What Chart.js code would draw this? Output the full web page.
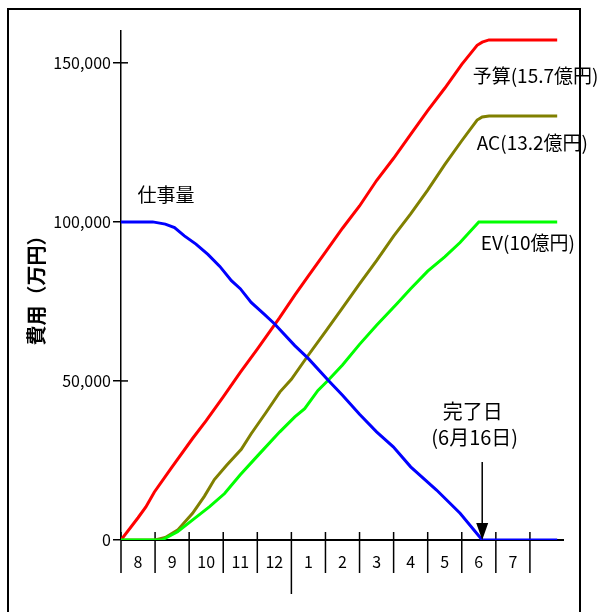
<!DOCTYPE html>
<html>
<head>
<meta charset="utf-8">
<script src="https://cdn.jsdelivr.net/npm/chart.js@4.4.1/dist/chart.umd.min.js"></script>
<style>
html, body { margin: 0; padding: 0; background: #fff; }
</style>
</head>
<body>
<canvas id="evmChart" width="603" height="612"></canvas>
<script>
// x is in months counted from 1 August (0 = 8/1, 5 = 1/1, 10 = 6/1)
const monthLabels = ['8', '9', '10', '11', '12', '1', '2', '3', '4', '5', '6', '7'];
const yTicks = [0, 50000, 100000, 150000];
const finishMonth = 10.6;   // 6月16日

// 予算 (planned value)
const budgetX = [0, 0.5, 0.73, 0.98, 1.5, 2.1, 2.5, 3, 3.5, 4, 4.65, 5.1, 5.5, 6, 6.5, 7, 7.5, 8, 8.5, 9, 9.5, 10, 10.45, 10.6, 10.8, 12.8];
const budgetY = [0, 7000, 10400, 15100, 23000, 31900, 37500, 45000, 52700, 60000, 69800, 77000, 83000, 90500, 98000, 105000, 113000, 120000, 127500, 135000, 142000, 149500, 155500, 156500, 157200, 157200];

// AC (actual cost)
const acX = [0, 1, 1.3, 1.66, 2.1, 2.45, 2.74, 3.1, 3.53, 3.82, 4.25, 4.66, 5.0, 5.49, 6, 6.5, 7, 7.5, 8, 8.5, 9, 9.5, 10, 10.45, 10.6, 10.8, 12.8];
const acY = [0, 0, 800, 3100, 8400, 13800, 19000, 23500, 28500, 33400, 40000, 46500, 50500, 58000, 65500, 73000, 80500, 87800, 95500, 102500, 110000, 118000, 125500, 132000, 133000, 133300, 133300];

// EV (earned value)
const evX = [0, 1.2, 1.66, 2.16, 2.6, 3.04, 3.5, 4.02, 4.66, 5.1, 5.39, 5.78, 6.08, 6.5, 7, 7.5, 8.09, 8.5, 9, 9.5, 9.95, 10.5, 12.8];
const evY = [0, 0, 2600, 6800, 10500, 14600, 20500, 26600, 34000, 38700, 41300, 47000, 50200, 55000, 61500, 67500, 74200, 79000, 84500, 89000, 93500, 100000, 100000];

// 仕事量 (remaining work)
const workX = [0, 0.93, 1.3, 1.57, 1.86, 2.2, 2.55, 2.9, 3.24, 3.5, 3.82, 4.2, 4.51, 5.1, 5.5, 6.08, 6.5, 7, 7.5, 7.99, 8.5, 9.26, 9.95, 10.6, 12.8];
const workY = [100000, 100000, 99300, 98200, 95600, 93000, 89800, 86000, 81500, 79000, 74700, 71000, 67900, 61100, 57000, 50200, 45500, 39500, 34000, 29300, 23000, 15700, 8400, 0, 0];

const labelFont = "'Liberation Sans Narrow', 'Noto Sans CJK JP', sans-serif";

function pts(xs, ys) {
    return xs.map(function (x, i) { return { x: x, y: ys[i] }; });
}

function line(ctx, x1, y1, x2, y2) {
    ctx.beginPath();
    ctx.moveTo(x1, y1);
    ctx.lineTo(x2, y2);
    ctx.stroke();
}

// notes placed in data units (month, value)
const notes = [
    { text: '予算(15.7億円)', x: 10.32, y: 145900, align: 'left', size: 19 },
    { text: 'AC(13.2億円)', x: 10.44, y: 124800, align: 'left', size: 19 },
    { text: 'EV(10億円)', x: 10.56, y: 93400, align: 'left', size: 19 },
    { text: '仕事量', x: 1.32, y: 108500, align: 'center', size: 19 },
    { text: '完了日', x: 10.32, y: 40300, align: 'center', size: 20 },
    { text: '(6月16日)', x: 10.38, y: 32200, align: 'center', size: 20 }
];

const extrasPlugin = {
    id: 'extras',
    beforeDatasetsDraw: function (chart) {
        const ctx = chart.ctx;
        const xs = chart.scales.x;
        const ys = chart.scales.y;
        const y0 = ys.getPixelForValue(0);
        ctx.save();
        ctx.strokeStyle = '#000';

        // outer frame
        ctx.lineWidth = 2;
        ctx.beginPath();
        ctx.moveTo(8, 612);
        ctx.lineTo(8, 9);
        ctx.lineTo(580, 9);
        ctx.lineTo(580, 612);
        ctx.stroke();

        // x axis line
        ctx.lineWidth = 2;
        line(ctx, xs.getPixelForValue(0), y0, xs.getPixelForValue(13), y0);

        // y ticks cross the axis
        ctx.lineWidth = 1.5;
        yTicks.forEach(function (v) {
            const py = ys.getPixelForValue(v);
            line(ctx, xs.getPixelForValue(0), py, xs.getPixelForValue(0) + 7, py);
        });

        // month separators and labels
        for (let i = 0; i <= monthLabels.length; i++) {
            const px = xs.getPixelForValue(i);
            const bottom = (i === 5) ? y0 + 54 : y0 + 33;
            line(ctx, px, y0 - 8, px, bottom);
        }
        ctx.fillStyle = '#000';
        ctx.font = '16px ' + labelFont;
        ctx.textAlign = 'center';
        ctx.textBaseline = 'middle';
        monthLabels.forEach(function (m, i) {
            ctx.fillText(m, xs.getPixelForValue(i + 0.5), y0 + 22);
        });
        ctx.restore();
    },
    afterDatasetsDraw: function (chart) {
        const ctx = chart.ctx;
        const xs = chart.scales.x;
        const ys = chart.scales.y;
        ctx.save();
        ctx.fillStyle = '#000';
        ctx.textBaseline = 'middle';
        notes.forEach(function (n) {
            ctx.font = n.size + 'px ' + labelFont;
            ctx.textAlign = n.align;
            ctx.fillText(n.text, xs.getPixelForValue(n.x), ys.getPixelForValue(n.y));
        });

        // arrow to the finish date
        const ax = xs.getPixelForValue(finishMonth);
        const ay = ys.getPixelForValue(0);
        ctx.strokeStyle = '#000';
        ctx.lineWidth = 1.5;
        line(ctx, ax, ys.getPixelForValue(24500), ax, ay - 14);
        ctx.beginPath();
        ctx.moveTo(ax, ay);
        ctx.lineTo(ax - 6, ay - 17);
        ctx.lineTo(ax + 6, ay - 17);
        ctx.closePath();
        ctx.fill();
        ctx.restore();
    }
};

function series(label, xs, ys, color) {
    return {
        label: label,
        data: pts(xs, ys),
        borderColor: color,
        backgroundColor: color,
        borderWidth: 3,
        pointRadius: 0,
        tension: 0,
        fill: false
    };
}

const config = {
    type: 'line',
    data: {
        datasets: [
            series('仕事量', workX, workY, '#0000ff'),
            series('EV', evX, evY, '#00ff00'),
            series('AC', acX, acY, '#808000'),
            series('予算', budgetX, budgetY, '#ff0000')
        ]
    },
    options: {
        responsive: false,
        animation: false,
        layout: {
            padding: { top: 31, right: 39, bottom: 72, left: 0 }
        },
        plugins: {
            legend: { display: false },
            tooltip: { enabled: false }
        },
        scales: {
            x: {
                type: 'linear',
                min: 0,
                max: 13,
                display: false
            },
            y: {
                min: 0,
                max: 160000,
                afterBuildTicks: function (scale) {
                    scale.ticks = yTicks.map(function (v) { return { value: v }; });
                },
                afterFit: function (scale) {
                    scale.width = 121;
                },
                ticks: {
                    color: '#000',
                    padding: 2,
                    font: { family: labelFont, size: 16 },
                    callback: function (value) {
                        return value.toLocaleString('en-US');
                    }
                },
                grid: {
                    drawOnChartArea: false,
                    color: '#000',
                    lineWidth: 1.5,
                    tickLength: 8
                },
                border: { color: '#000', width: 1.5 },
                title: {
                    display: true,
                    text: '費用（万円）',
                    color: '#000',
                    font: { family: "'Noto Sans CJK JP', sans-serif", size: 20, weight: 'bold' },
                    padding: { top: 24, bottom: 0 }
                }
            }
        }
    },
    plugins: [extrasPlugin]
};

const evmChart = new Chart(document.getElementById('evmChart'), config);
</script>
</body>
</html>
